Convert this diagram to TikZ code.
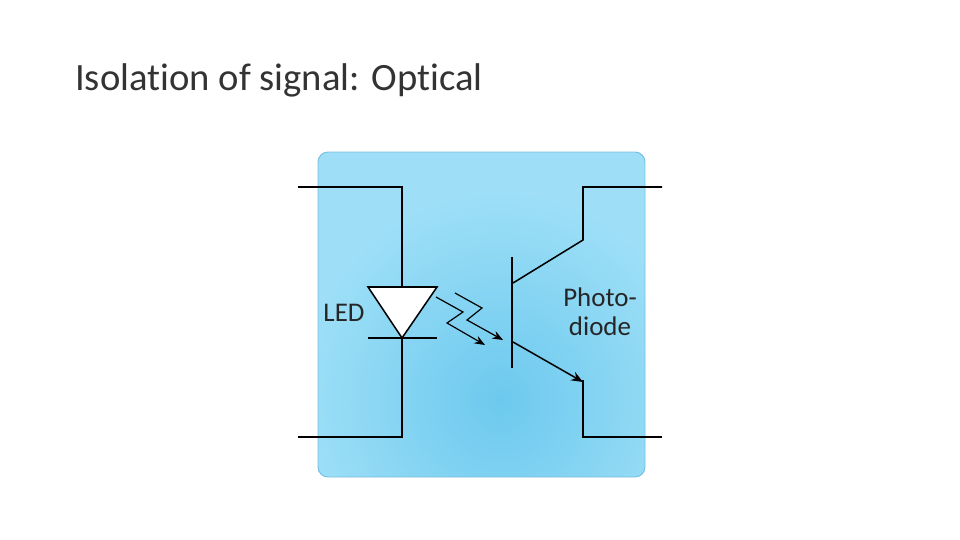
\documentclass[tikz,border=0pt]{standalone}
\usepackage{fontspec}
\setmainfont[Ligatures={NoCommon,NoRare,NoContextual}]{Carlito}
\usetikzlibrary{arrows.meta}
\definecolor{boxa}{RGB}{158,223,247}
\definecolor{boxb}{RGB}{108,201,238}
\definecolor{edgec}{RGB}{120,190,225}
\tikzset{wire/.style={line width=1.3pt,black},
 ray/.style={line width=1pt,-{Stealth[length=9pt,width=7pt]}},
 lbl/.style={font=\fontsize{23}{25}\selectfont,text=black!85,align=center}}
\begin{document}
\begin{tikzpicture}[x=0.03cm,y=-0.03cm]
\useasboundingbox (0,0) rectangle (960,540);
\node[anchor=west,inner sep=0pt,font=\fontsize{33}{38}\selectfont,text=black!80] (title) at (75,80) {Isolation of signal: Optical};
\begin{scope}
\clip[rounded corners=0.3cm] (318,152) rectangle (645,477);
\fill[boxa] (318,152) rectangle (645,477);
\shade[inner color=boxb,outer color=boxa] (300,190) rectangle (700,610);
\end{scope}
\draw[edgec,line width=0.8pt,rounded corners=0.3cm] (318,152) rectangle (645,477);
% LED
\coordinate (lt) at (298,187); \coordinate (lb) at (298,437);
\draw[wire] (lt) -- (402,187) -- (402,287);
\draw[wire,fill=white,line join=miter] (368,287) -- (437,287) -- (402,338) -- cycle;
\draw[wire] (368,338) -- (437,338);
\draw[wire] (402,338) -- (402,437) -- (lb);
\node[lbl] (led) at (344,313) {LED};
% rays
\draw[ray] (436,297) -- (463,312) -- (447,323) -- (485,345);
\draw[ray] (455,293) -- (482,308) -- (467,320) -- (503,340);
% phototransistor
\draw[wire] (512,257) -- (512,368);
\draw[wire] (513,283) -- (583,240) -- (583,187) -- (662,187);
\draw[wire,-{Stealth[length=10pt,width=8pt]}] (513,342) -- (583,382);
\draw[wire] (583,380) -- (583,437) -- (662,437);
\node[lbl] (pd) at (600,312) {Photo-\\diode};
\end{tikzpicture}
\end{document}
